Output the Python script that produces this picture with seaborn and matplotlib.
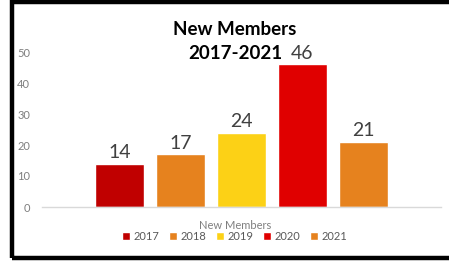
import matplotlib
matplotlib.use("Agg")
import matplotlib.pyplot as plt
import seaborn as sns
import pandas as pd
from matplotlib.patches import Rectangle

years = ["2017", "2018", "2019", "2020", "2021"]
members = [14, 17, 24, 46, 21]
bar_colors = ["#C00000", "#E6821E", "#FCD116", "#E00000", "#E6821E"]
title_lines = ["New Members", "2017-2021"]
series_name = "New Members"

sns.set_theme(style="white")
plt.rcParams["font.family"] = ["Lato", "DejaVu Sans"]

df = pd.DataFrame({"year": years, "members": members})

W, H = 449, 266
fig = plt.figure(figsize=(W / 100, H / 100), dpi=100)
ax = fig.add_axes([42 / W, (H - 207) / H, 399 / W, 170.5 / H])

sns.barplot(data=df, x="year", y="members", hue="year", palette=bar_colors,
            width=0.79, saturation=1, ax=ax, legend=True)

for cont in ax.containers:
    ax.bar_label(cont, fontsize=14, color="#404040", padding=2)

ax.set_ylim(0, 55)
ax.set_xlim(-1.27, 5.27)
ax.set_yticks(range(0, 51, 10))
ax.set_xticks([])
ax.set_xlabel("")
ax.set_ylabel("")
ax.tick_params(axis="y", length=0, pad=8.5, labelsize=8, labelcolor="#7F7F7F")
for s in ["left", "right", "top"]:
    ax.spines[s].set_visible(False)
ax.spines["bottom"].set_color("#D9D9D9")
ax.spines["bottom"].set_linewidth(1)

sns.move_legend(ax, "center", bbox_to_anchor=(0.523, 1 - 231 / H),
                bbox_transform=fig.transFigure, ncol=5, frameon=False,
                title=series_name, fontsize=8, title_fontsize=8,
                handlelength=0.7, handleheight=0.7, handletextpad=0.3,
                columnspacing=0.9, borderpad=0, labelspacing=0)
leg = ax.get_legend()
leg.get_title().set_color("#7F7F7F")
for t in leg.get_texts():
    t.set_color("#595959")

fig.text(235 / W, 1 - 30 / H, title_lines[0], ha="center", va="center",
         fontsize=13.5, fontweight="bold", color="black")
fig.text(235 / W, 1 - 54 / H, title_lines[1], ha="center", va="center",
         fontsize=13.5, fontweight="bold", color="black")

# thick black frame, right side runs off the image
fig.patches.append(Rectangle((12 / W, 1 - 258 / H), 460 / W, 256 / H,
                             transform=fig.transFigure, fill=False,
                             edgecolor="black", linewidth=3.2, zorder=10))

fig.savefig("out.png", dpi=100)
